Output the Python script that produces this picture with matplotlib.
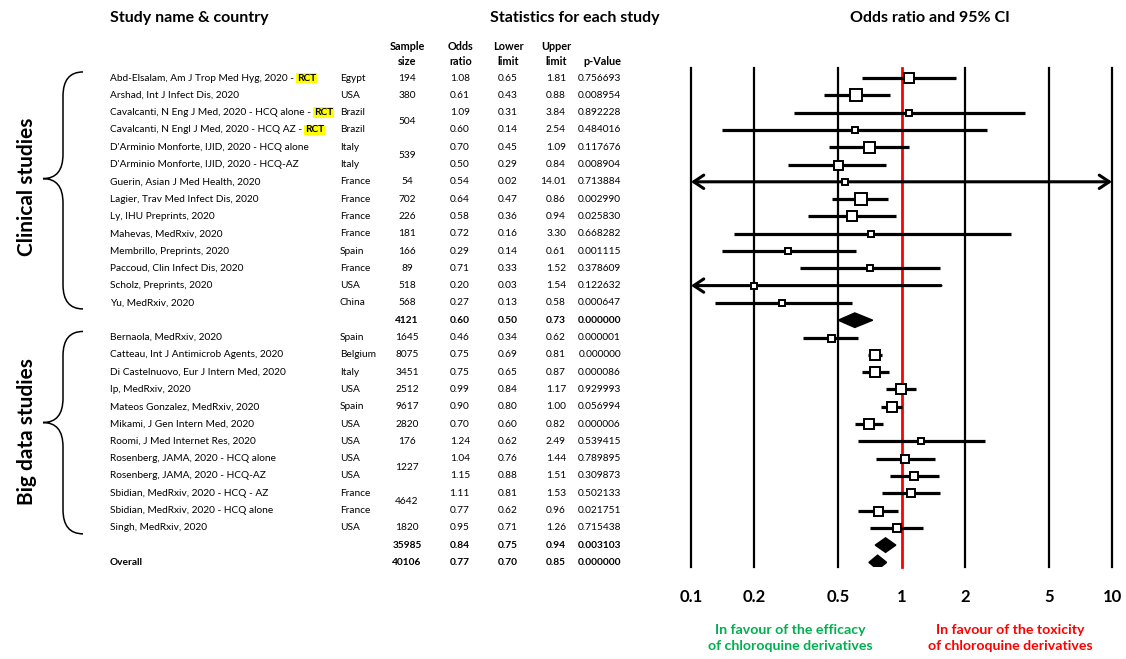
import matplotlib
matplotlib.use('Agg')
import matplotlib.pyplot as plt
from matplotlib.path import Path
from matplotlib.patches import PathPatch

plt.rcParams['font.family'] = ['Lato', 'DejaVu Sans']

# --- data ---
studies = [
    'Abd-Elsalam, Am J Trop Med Hyg, 2020 -', 'Arshad, Int J Infect Dis, 2020',
    'Cavalcanti, N Eng J Med, 2020 - HCQ alone -', 'Cavalcanti, N Engl J Med, 2020 - HCQ AZ -',
    "D'Arminio Monforte, IJID, 2020 - HCQ alone", "D'Arminio Monforte, IJID, 2020 - HCQ-AZ",
    'Guerin, Asian J Med Health, 2020', 'Lagier, Trav Med Infect Dis, 2020',
    'Ly, IHU Preprints, 2020', 'Mahevas, MedRxiv, 2020', 'Membrillo, Preprints, 2020',
    'Paccoud, Clin Infect Dis, 2020', 'Scholz, Preprints, 2020', 'Yu, MedRxiv, 2020',
    'Bernaola, MedRxiv, 2020', 'Catteau, Int J Antimicrob Agents, 2020',
    'Di Castelnuovo, Eur J Intern Med, 2020', 'Ip, MedRxiv, 2020',
    'Mateos Gonzalez, MedRxiv, 2020', 'Mikami, J Gen Intern Med, 2020',
    'Roomi, J Med Internet Res, 2020', 'Rosenberg, JAMA, 2020 - HCQ alone',
    'Rosenberg, JAMA, 2020 - HCQ-AZ', 'Sbidian, MedRxiv, 2020 - HCQ - AZ',
    'Sbidian, MedRxiv, 2020 - HCQ alone', 'Singh, MedRxiv, 2020',
]
rct = [True, False, True, True] + [False] * 22
countries = ['Egypt', 'USA', 'Brazil', 'Brazil', 'Italy', 'Italy', 'France', 'France',
             'France', 'France', 'Spain', 'France', 'USA', 'China',
             'Spain', 'Belgium', 'Italy', 'USA', 'Spain', 'USA', 'USA', 'USA', 'USA',
             'France', 'France', 'USA']
group = [0] * 14 + [1] * 12
sample_n = [194, 380, 504, None, 539, None, 54, 702, 226, 181, 166, 89, 518, 568,
            1645, 8075, 3451, 2512, 9617, 2820, 176, 1227, None, 4642, None, 1820]
sample_span = [1, 1, 2, 0, 2, 0, 1, 1, 1, 1, 1, 1, 1, 1,
               1, 1, 1, 1, 1, 1, 1, 2, 0, 2, 0, 1]
odds = [1.08, 0.61, 1.09, 0.60, 0.70, 0.50, 0.54, 0.64, 0.58, 0.72, 0.29, 0.71, 0.20, 0.27,
        0.46, 0.75, 0.75, 0.99, 0.90, 0.70, 1.24, 1.04, 1.15, 1.11, 0.77, 0.95]
lower = [0.65, 0.43, 0.31, 0.14, 0.45, 0.29, 0.02, 0.47, 0.36, 0.16, 0.14, 0.33, 0.03, 0.13,
         0.34, 0.69, 0.65, 0.84, 0.80, 0.60, 0.62, 0.76, 0.88, 0.81, 0.62, 0.71]
upper = [1.81, 0.88, 3.84, 2.54, 1.09, 0.84, 14.01, 0.86, 0.94, 3.30, 0.61, 1.52, 1.54, 0.58,
         0.62, 0.81, 0.87, 1.17, 1.00, 0.82, 2.49, 1.44, 1.51, 1.53, 0.96, 1.26]
pvals = ['0.756693', '0.008954', '0.892228', '0.484016', '0.117676', '0.008904', '0.713884',
         '0.002990', '0.025830', '0.668282', '0.001115', '0.378609', '0.122632', '0.000647',
         '0.000001', '0.000000', '0.000086', '0.929993', '0.056994', '0.000006', '0.539415',
         '0.789895', '0.309873', '0.502133', '0.021751', '0.715438']
# relative study weights (box size)
weight = [10, 12, 6, 6, 11, 9, 6, 12, 10, 6, 6, 6, 6, 6,
          7, 10, 10, 10, 10, 10, 6, 8, 8, 8, 9, 8]

summary_label = ['', '', 'Overall']
summary_n = [4121, 35985, 40106]
summary_or = [0.60, 0.84, 0.77]
summary_lo = [0.50, 0.75, 0.70]
summary_hi = [0.73, 0.94, 0.85]
summary_p = ['0.000000', '0.003103', '0.000000']

group_names = ['Clinical studies', 'Big data studies']
ticks = [0.1, 0.2, 0.5, 1, 2, 5, 10]
tick_labels = ['0.1', '0.2', '0.5', '1', '2', '5', '10']

# --- row layout ---
rows = []
r = 0
for g in (0, 1):
    for i in range(len(studies)):
        if group[i] == g:
            rows.append(r)
            r += 1
    r += 1
summary_rows = [14, 27, 28]

W, H = 1126, 659
top_px, bot_px, row0_px, dy = 68, 567, 78, 17.3


def prow(px):
    return (px - row0_px) / dy


ylim = (prow(bot_px), prow(top_px))

fig = plt.figure(figsize=(W / 100, H / 100), dpi=100)
fig.patch.set_facecolor('white')

# table axes (x in pixels, y in rows)
tab = fig.add_axes([0, 1 - bot_px / H, 1, (bot_px - top_px) / H])
tab.set_xlim(0, W)
tab.set_ylim(*ylim)
tab.axis('off')

# forest axes
ax = fig.add_axes([691 / W, 1 - bot_px / H, (1112 - 691) / W, (bot_px - top_px) / H])
ax.patch.set_visible(False)
ax.set_xscale('log')
ax.set_xlim(0.1, 10)
ax.set_ylim(*ylim)
for s in ax.spines.values():
    s.set_visible(False)
ax.set_yticks([])
ax.set_xticks(ticks, labels=tick_labels)
ax.minorticks_off()
ax.tick_params(axis='x', length=0, pad=16, labelsize=12)
for lb in ax.get_xticklabels():
    lb.set_fontweight('bold')

for t in ticks:
    ax.axvline(t, color='red' if t == 1 else 'black', lw=2.0 if t == 1 else 1.6,
               clip_on=False, zorder=2 if t == 1 else 1)

fs = 7.3
xs_name, xs_country, xs_n, xs_or, xs_lo, xs_hi, xs_p = 110, 340, 407, 470, 518, 566, 621

# headers
tab.text(110, prow(18), 'Study name & country', fontsize=11.5, fontweight='bold', va='center')
tab.text(575, prow(18), 'Statistics for each study', fontsize=11.5, fontweight='bold',
         va='center', ha='center')
tab.text(930, prow(18), 'Odds ratio and 95% CI', fontsize=11.5, fontweight='bold',
         va='center', ha='center')
for x, lab in [(407, 'Sample\nsize'), (461, 'Odds\nratio'), (508, 'Lower\nlimit'),
               (556, 'Upper\nlimit')]:
    tab.text(x, prow(54), lab, fontsize=7.8, fontweight='bold', ha='center', va='center',
             linespacing=1.35)
tab.text(602, prow(61), 'p-Value', fontsize=7.8, fontweight='bold', ha='center', va='center')

# study rows
for i, name in enumerate(studies):
    y = rows[i]
    t = tab.text(xs_name, y, name, fontsize=fs, va='center')
    if rct[i]:
        tab.annotate('RCT', xy=(1, 0), xycoords=t, xytext=(2.2, 0), textcoords='offset points',
                     fontsize=fs, fontweight='bold', va='bottom', ha='left',
                     bbox=dict(boxstyle='square,pad=0.08', fc='#FFFF00', ec='none'))
    tab.text(xs_country, y, countries[i], fontsize=fs, va='center')
    if sample_span[i] > 0:
        tab.text(xs_n, y + (sample_span[i] - 1) / 2, str(sample_n[i]), fontsize=fs,
                 va='center', ha='center')
    tab.text(xs_or, y, f'{odds[i]:.2f}', fontsize=fs, va='center', ha='right')
    tab.text(xs_lo, y, f'{lower[i]:.2f}', fontsize=fs, va='center', ha='right')
    tab.text(xs_hi, y, f'{upper[i]:.2f}', fontsize=fs, va='center', ha='right')
    tab.text(xs_p, y, pvals[i], fontsize=fs, va='center', ha='right')

    # CI line, clipped with arrows
    lo_c, hi_c = max(lower[i], 0.1), min(upper[i], 10)
    if lower[i] < 0.1 or upper[i] > 10:
        if lower[i] < 0.1 and upper[i] > 10:
            xy, xyt, style = (lo_c, y), (hi_c, y), '<->'
        elif lower[i] < 0.1:
            xy, xyt, style = (lo_c, y), (hi_c, y), '->'
        else:
            xy, xyt, style = (hi_c, y), (lo_c, y), '->'
        ax.annotate('', xy=xy, xytext=xyt, annotation_clip=False,
                    arrowprops=dict(arrowstyle=style + ',head_length=0.45,head_width=0.3',
                                    lw=2.2, color='black', shrinkA=0, shrinkB=0,
                                    mutation_scale=16), zorder=3)
    else:
        ax.plot([lo_c, hi_c], [y, y], color='black', lw=2.3, solid_capstyle='butt', zorder=3)
    ax.plot(odds[i], y, marker='s', ms=weight[i] * 0.72, mfc='white', mec='black', mew=1.4,
            zorder=4)

# summary rows
for k, y in enumerate(summary_rows):
    wt = 'bold'
    if summary_label[k]:
        tab.text(xs_name, y, summary_label[k], fontsize=fs, va='center', fontweight=wt)
    tab.text(xs_n, y, str(summary_n[k]), fontsize=fs, va='center', ha='center', fontweight=wt)
    tab.text(xs_or, y, f'{summary_or[k]:.2f}', fontsize=fs, va='center', ha='right',
             fontweight=wt)
    tab.text(xs_lo, y, f'{summary_lo[k]:.2f}', fontsize=fs, va='center', ha='right',
             fontweight=wt)
    tab.text(xs_hi, y, f'{summary_hi[k]:.2f}', fontsize=fs, va='center', ha='right',
             fontweight=wt)
    tab.text(xs_p, y, summary_p[k], fontsize=fs, va='center', ha='right', fontweight=wt)
    h = 0.42
    ax.fill([summary_lo[k], summary_or[k], summary_hi[k], summary_or[k]],
            [y, y - h, y, y + h], color='black', zorder=4)

# group braces and labels
for g, name in enumerate(group_names):
    grows = [rows[i] for i in range(len(studies)) if group[i] == g]
    y0, y1 = grows[0] - 0.35, grows[-1] + 0.35
    ym = y0 + 0.45 * (y1 - y0)
    xe, xm, xt = 83, 63, 43
    rc = 1.4
    verts = [(xe, y0), (xm, y0), (xm, y0 + rc), (xm, ym - rc), (xm, ym), (xt, ym),
             (xm, ym), (xm, ym + rc), (xm, y1 - rc), (xm, y1), (xe, y1)]
    codes = [Path.MOVETO, Path.CURVE3, Path.CURVE3, Path.LINETO, Path.CURVE3, Path.CURVE3,
             Path.CURVE3, Path.CURVE3, Path.LINETO, Path.CURVE3, Path.CURVE3]
    tab.add_patch(PathPatch(Path(verts, codes), fc='none', ec='black', lw=1.1))
    tab.text(27, ym + 0.5, name, rotation=90, fontsize=15, fontweight='bold',
             ha='center', va='center')

# bottom captions
tab.text(790, prow(638), 'In favour of the efficacy\nof chloroquine derivatives',
         color='#00B050', fontsize=10.2, fontweight='bold', ha='center', va='center',
         linespacing=1.45)
tab.text(1010, prow(638), 'In favour of the toxicity\nof chloroquine derivatives',
         color='#FF0000', fontsize=10.2, fontweight='bold', ha='center', va='center',
         linespacing=1.45)

fig.savefig('out.png', dpi=100)
